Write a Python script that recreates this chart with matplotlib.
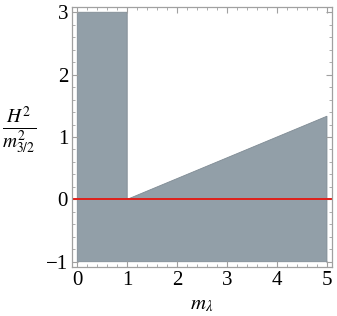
import matplotlib
matplotlib.use("Agg")
import matplotlib.pyplot as plt
from matplotlib.ticker import MultipleLocator

# region boundary (m_lambda, H^2/m_3/2^2)
region_x = [0, 0, 1, 1, 5, 5]
region_y = [-1, 3, 3, 0, 4 / 3, -1]
line_y = 0

plt.rcParams["font.family"] = ["Liberation Serif", "DejaVu Serif"]
plt.rcParams["mathtext.fontset"] = "stix"

fig = plt.figure(figsize=(3.37, 3.16), dpi=100)
ax = fig.add_axes([0.2145, 0.156, 0.7705, 0.821])

ax.fill(region_x, region_y, facecolor="#929fa8", edgecolor="#7f8b94", linewidth=0.6)
ax.axhline(line_y, color="#e0201b", linewidth=1.4)

ax.set_xlim(-0.1, 5.1)
ax.set_ylim(-1.08, 3.08)

ax.xaxis.set_major_locator(MultipleLocator(1))
ax.xaxis.set_minor_locator(MultipleLocator(0.2))
ax.yaxis.set_major_locator(MultipleLocator(1))
ax.yaxis.set_minor_locator(MultipleLocator(0.2))
ax.yaxis.set_major_formatter(plt.FuncFormatter(lambda v, p: "\u2212%d" % -v if v < 0 else "%d" % v))

ax.tick_params(which="both", direction="in", top=True, right=True, color="#a0a0a0",
               labelsize=15, pad=3)
ax.tick_params(which="major", length=4, width=0.8)
ax.tick_params(which="minor", length=2, width=0.6)
for s in ax.spines.values():
    s.set_color("#a0a0a0")
    s.set_linewidth(0.9)

ax.set_xlabel(r"$m_\lambda$", fontsize=15, labelpad=4)
ax.set_ylabel(r"$\frac{H^2}{m_{3/2}^2}$", fontsize=20, rotation=0, ha="center", va="center")
ax.yaxis.set_label_coords(-0.205, 0.527)

plt.savefig("out.png", dpi=100)
